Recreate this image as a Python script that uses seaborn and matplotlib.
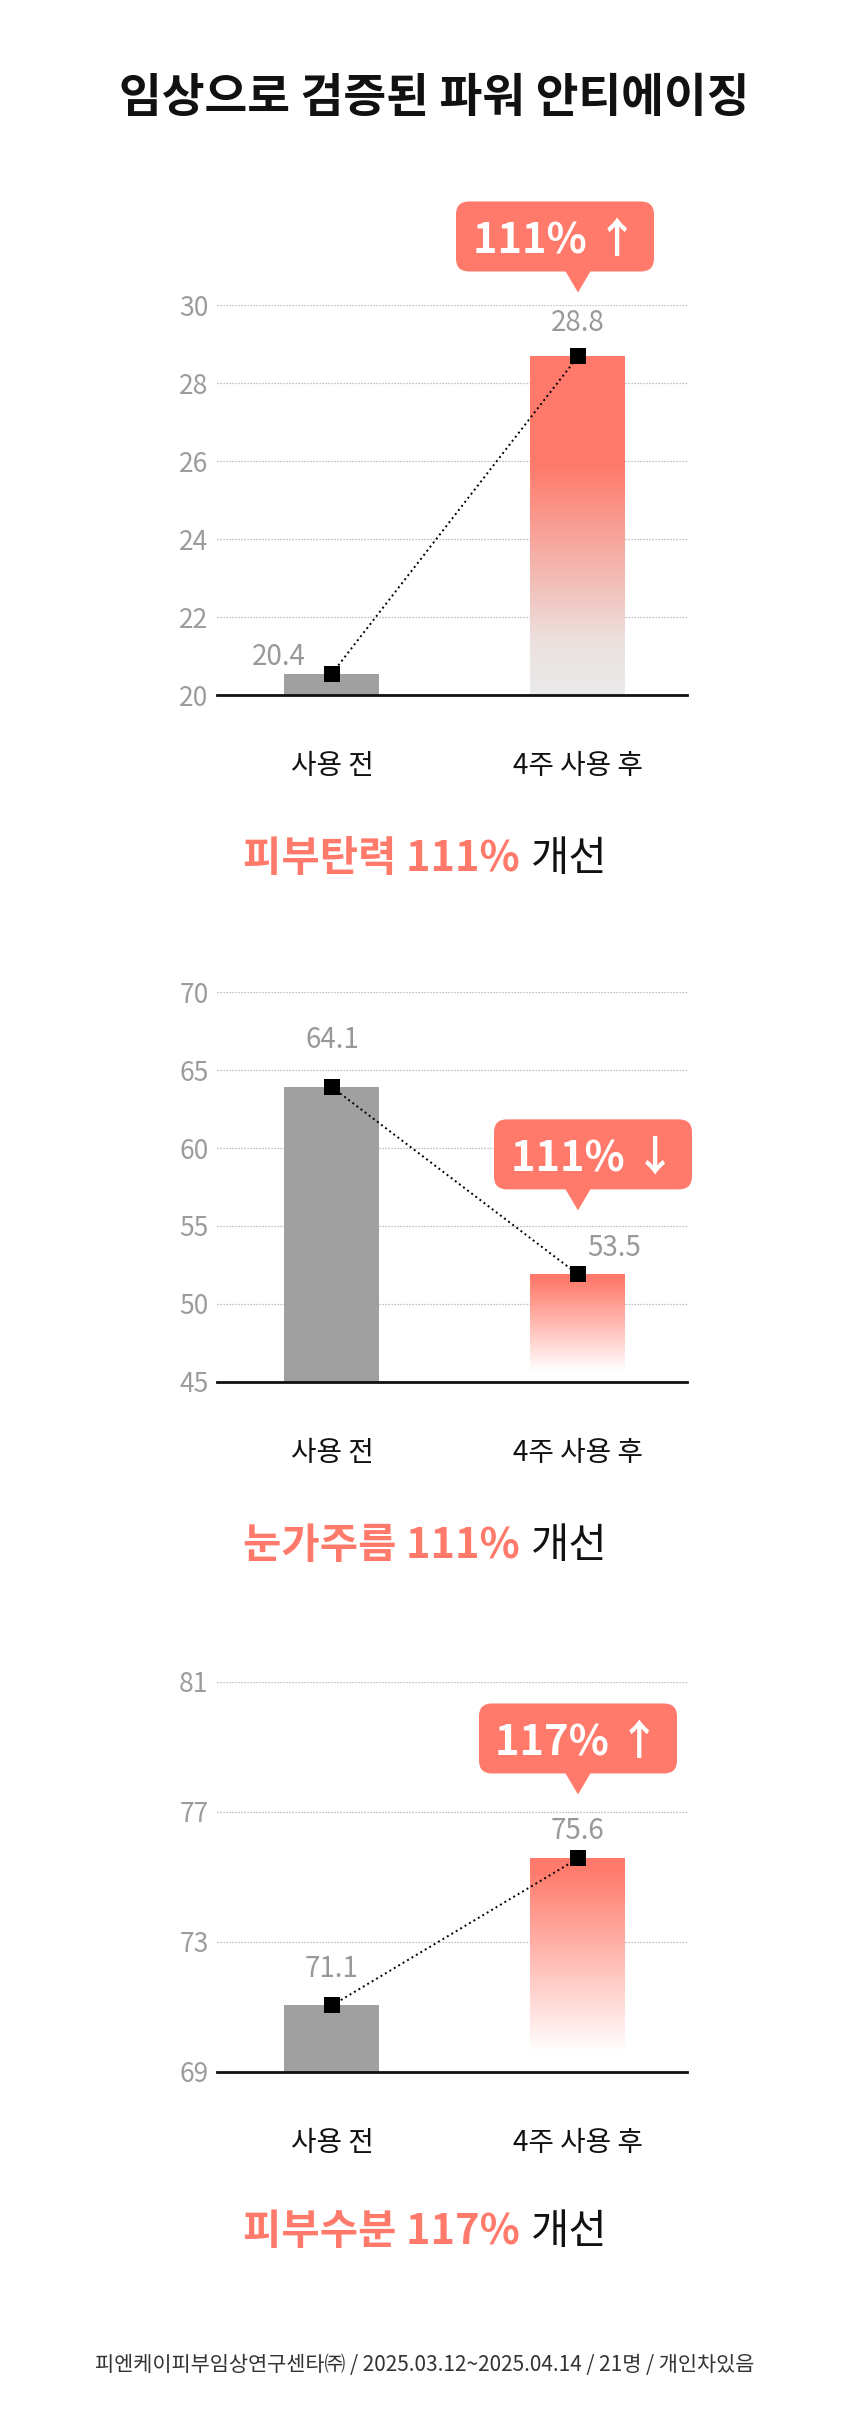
import matplotlib
matplotlib.use("Agg")
import matplotlib.pyplot as plt
import seaborn as sns
import numpy as np
from matplotlib.colors import LinearSegmentedColormap
from matplotlib.patches import FancyBboxPatch, Polygon
from matplotlib.transforms import ScaledTranslation
from matplotlib.offsetbox import TextArea, HPacker, AnnotationBbox

# --- data ---
title = "임상으로 검증된 파워 안티에이징"
categories = ["사용 전", "4주 사용 후"]

elasticity_bars = [20.55, 28.68]
elasticity_labels = ["20.4", "28.8"]
elasticity_ticks = [20, 22, 24, 26, 28, 30]

wrinkle_bars = [63.9, 51.9]
wrinkle_labels = ["64.1", "53.5"]
wrinkle_ticks = [45, 50, 55, 60, 65, 70]

moisture_bars = [71.05, 75.57]
moisture_labels = ["71.1", "75.6"]
moisture_ticks = [69, 73, 77, 81]

badges = ["111% ↑", "111% ↓", "117% ↑"]
headlines = ["피부탄력 111%", "눈가주름 111%", "피부수분 117%"]
headline_tail = "개선"
footer = "피엔케이피부임상연구센타㈜ / 2025.03.12~2025.04.14 / 21명 / 개인차있음"

# --- style / layout ---
W, H = 850, 2425
SALMON = "#FF7A6B"
GREY_BAR = "#A0A0A0"
TICK_GREY = "#9C9C9C"

sns.set_theme(style="white")
plt.rcParams["font.family"] = ["Noto Sans CJK KR", "DejaVu Sans"]

panels = [
    dict(top=305, bars=elasticity_bars, labels=elasticity_labels, ticks=elasticity_ticks,
         badge=badges[0], headline=headlines[0], headline_y=859, badge_dx=-23,
         label_off=[(-38, 12), (0, 24)],
         fade=[(0, "#EAEAEA"), (0.15, "#ECE2E0"), (0.68, SALMON), (1, SALMON)]),
    dict(top=992, bars=wrinkle_bars, labels=wrinkle_labels, ticks=wrinkle_ticks,
         badge=badges[1], headline=headlines[1], headline_y=1546, badge_dx=15,
         label_off=[(0, 34), (26, 19)],
         fade=[(0, "#FFFFFF"), (0.1, "#FFFFFF"), (0.95, SALMON), (1, SALMON)]),
    dict(top=1682, bars=moisture_bars, labels=moisture_labels, ticks=moisture_ticks,
         badge=badges[2], headline=headlines[2], headline_y=2232, badge_dx=0,
         label_off=[(0, 26), (0, 20)],
         fade=[(0, "#FFFFFF"), (0.09, "#FFFFFF"), (0.95, SALMON), (1, SALMON)]),
]
AX_LEFT, AX_W, AX_H = 217, 470, 390
XLIM = (-0.467, 1.443)
BAR_W = 0.386

fig = plt.figure(figsize=(W / 100, H / 100), dpi=100)
fig.patch.set_facecolor("white")

fig.text(434 / W, 1 - 98 / H, title, ha="center", va="center", fontsize=33.5,
         fontweight="black", color="#111111")

for p in panels:
    ax = fig.add_axes([AX_LEFT / W, 1 - (p["top"] + AX_H) / H, AX_W / W, AX_H / H])
    ymin, ymax = p["ticks"][0], p["ticks"][-1]

    sns.barplot(x=categories, y=p["bars"], hue=categories, hue_order=categories,
                palette=[GREY_BAR, SALMON], saturation=1, width=BAR_W,
                linewidth=0, legend=False, ax=ax)

    # gradient fill for the "after" bar
    bar = sorted(ax.patches, key=lambda r: r.get_x())[1]
    bx0, bx1 = bar.get_x(), bar.get_x() + bar.get_width()
    btop = p["bars"][1]
    bar.set_facecolor("none")
    cmap = LinearSegmentedColormap.from_list("fade", p["fade"])
    grad = np.linspace(0, 1, 256).reshape(-1, 1)
    img = ax.imshow(grad, cmap=cmap, origin="lower", aspect="auto",
                    extent=[bx0, bx1, ymin, btop], zorder=1, interpolation="bicubic")
    img.set_clip_path(bar)

    sns.pointplot(x=categories, y=p["bars"], color="black", markers="s",
                  linestyles=":", linewidth=1.4, markersize=11.5,
                  markeredgewidth=0, errorbar=None, ax=ax)

    ax.set_xlim(*XLIM)
    ax.set_ylim(ymin, ymax)
    ax.set_autoscale_on(False)
    ax.set_yticks(p["ticks"])
    ax.set_xticks([0, 1])
    ax.set_xticklabels(categories)
    ax.set_xlabel("")
    ax.set_ylabel("")
    ax.set_axisbelow(True)
    ax.yaxis.grid(True, linestyle=(0, (1, 1.4)), color="#AFAFAF", linewidth=0.9)
    ax.xaxis.grid(False)
    for side in ["top", "right", "left"]:
        ax.spines[side].set_visible(False)
    ax.spines["bottom"].set_color("#111111")
    ax.spines["bottom"].set_linewidth(2)
    ax.spines["bottom"].set_zorder(3)
    ax.tick_params(axis="y", length=0, pad=6, labelsize=19, labelcolor=TICK_GREY)
    ax.tick_params(axis="x", length=0, pad=40, labelsize=20, labelcolor="#111111")
    for t in ax.get_yticklabels():
        t.set_fontweight("light")

    # value labels
    for i, (v, lab) in enumerate(zip(p["bars"], p["labels"])):
        dx, dy = p["label_off"][i]
        ax.annotate(lab, xy=(i, v), xytext=(dx, dy), textcoords="offset points",
                    ha="center", va="center", fontsize=20, color="#999999",
                    fontweight="light", zorder=4)

    # speech-bubble badge above the "after" bar (units: inches from bar top)
    trans = fig.dpi_scale_trans + ScaledTranslation(1, btop, ax.transData)
    bw, bh, tip, tail_h, tail_w = 1.98, 0.70, 0.64, 0.21, 0.13
    cx = p["badge_dx"] / 100
    y0 = tip + tail_h
    box = FancyBboxPatch((cx - bw / 2, y0), bw, bh,
                         boxstyle="round,pad=0,rounding_size=0.13",
                         transform=trans, facecolor=SALMON, edgecolor="none",
                         clip_on=False, zorder=5)
    ax.add_patch(box)
    tail = Polygon([(-tail_w, y0 + 0.01), (tail_w, y0 + 0.01), (0, tip)], closed=True,
                   transform=trans, facecolor=SALMON, edgecolor="none",
                   clip_on=False, zorder=5)
    ax.add_patch(tail)
    ax.text(cx, y0 + bh / 2, p["badge"], transform=trans, ha="center",
            va="center_baseline", fontsize=30, fontweight="heavy", color="white",
            zorder=6, clip_on=False)

    # headline below each chart
    hl = TextArea(p["headline"], textprops=dict(color=SALMON, fontsize=30,
                                               fontweight="heavy"))
    rest = TextArea(headline_tail, textprops=dict(color="#111111", fontsize=30,
                                                  fontweight="regular"))
    pack = HPacker(children=[hl, rest], align="baseline", pad=0, sep=8)
    ab = AnnotationBbox(pack, (0.5, 1 - p["headline_y"] / H), xycoords="figure fraction",
                        frameon=False, box_alignment=(0.5, 0.5))
    fig.add_artist(ab)

fig.text(0.5, 1 - 2365 / H, footer, ha="center", va="center", fontsize=15,
         color="#333333")

fig.savefig("out.png", dpi=100, facecolor="white")
